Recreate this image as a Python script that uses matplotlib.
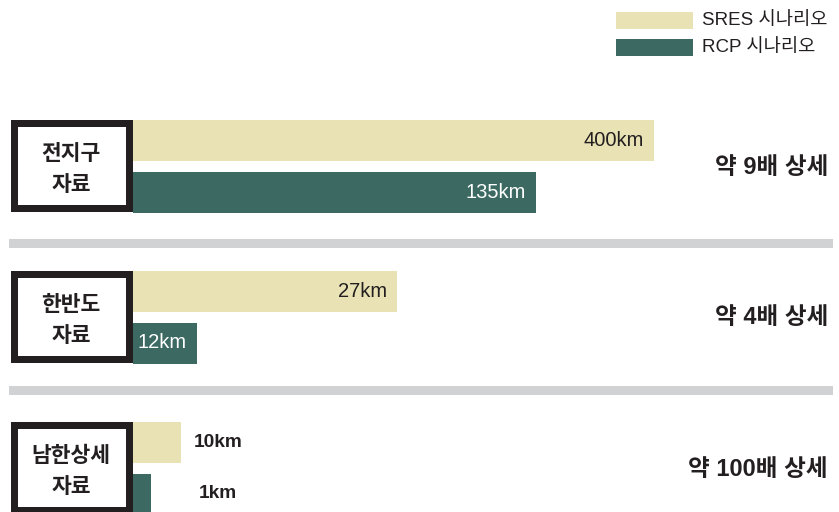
import numpy as np
import matplotlib
matplotlib.use("Agg")
import matplotlib.pyplot as plt
from matplotlib.patches import Rectangle

plt.rcParams['font.family'] = ['Liberation Sans', 'Noto Sans CJK KR', 'DejaVu Sans']

# --- data -----------------------------------------------------------------
groups = ['전지구\n자료', '한반도\n자료', '남한상세\n자료']
sres_km = [400, 27, 10]
rcp_km = [135, 12, 1]
detail = ['약 9배 상세', '약 4배 상세', '약 100배 상세']
series = ['SRES 시나리오', 'RCP 시나리오']
labels_inside = [True, True, False]

# --- style ----------------------------------------------------------------
SRES_C = '#e8e2b4'
RCP_C = '#3c6a63'
INK = '#231f20'
RULE = '#d1d2d4'

W, H = 839, 512
fig = plt.figure(figsize=(W / 100, H / 100), dpi=100)

# piecewise display scale (km -> px) so every resolution tier stays legible
km_knots = np.array([0, 1, 10, 12, 27, 135, 400, 2000], dtype=float)
px_knots = np.array([0, 18, 48, 64, 264, 403, 521, 1200], dtype=float)


def fwd(v):
    return np.interp(v, km_knots, px_knots)


def inv(p):
    return np.interp(p, px_knots, km_knots)


x0 = 133
bar_ax = fig.add_axes([x0 / W, 0, (W - x0) / W, 1], zorder=1)
bar_ax.set_xscale('function', functions=(fwd, inv))
bar_ax.set_xlim(0, inv(W - x0))
bar_ax.set_ylim(H, 0)
bar_ax.axis('off')

# overlay in pixel units for frames, rules, legend, value labels and side notes
over = fig.add_axes([0, 0, 1, 1], zorder=2)
over.set_xlim(0, W)
over.set_ylim(H, 0)
over.axis('off')
over.patch.set_alpha(0)

pitch = 151
bar_h = 41
tops = 120 + pitch * np.arange(len(groups))
sres_y = tops + bar_h / 2
rcp_y = tops + 51.5 + bar_h / 2

bar_ax.barh(sres_y, sres_km, height=bar_h, left=0, color=SRES_C, linewidth=0)
bar_ax.barh(rcp_y, rcp_km, height=bar_h, left=0, color=RCP_C, linewidth=0)

pad = 10
for i in range(len(groups)):
    for y, v, col in ((sres_y[i], sres_km[i], INK), (rcp_y[i], rcp_km[i], 'white')):
        if labels_inside[i]:
            px = x0 + fwd(v) - pad
            over.text(px, y, f'{v}km', ha='right', va='center',
                      fontsize=14.5, color=col)
        else:
            over.text(218, y, f'{v}km', ha='center', va='center',
                      fontsize=13.8, color=INK, fontweight='bold')

# framed category labels
for i, g in enumerate(groups):
    t = tops[i]
    over.add_patch(Rectangle((11, t), x0 - 11, 92, fc=INK, ec='none'))
    over.add_patch(Rectangle((18, t + 7), x0 - 11 - 14, 78, fc='white', ec='none'))
    over.text(71, t + 50, g, ha='center', va='center', fontsize=15.5,
              fontweight='bold', color=INK, linespacing=1.65)
    over.text(828, t + 47, detail[i], ha='right', va='center', fontsize=17,
              fontweight='bold', color=INK)

# separators between tiers
for ys in (239, 386):
    over.add_patch(Rectangle((9, ys), 824, 9, fc=RULE, ec='none'))

# legend
for j, (name, col) in enumerate(zip(series, (SRES_C, RCP_C))):
    yc = 20.5 + 27 * j
    over.add_patch(Rectangle((616, yc - 8.5), 77, 17, fc=col, ec='none'))
    over.text(702, yc, name, ha='left', va='center', fontsize=13.5, color=INK)

fig.savefig('out.png', dpi=100)
